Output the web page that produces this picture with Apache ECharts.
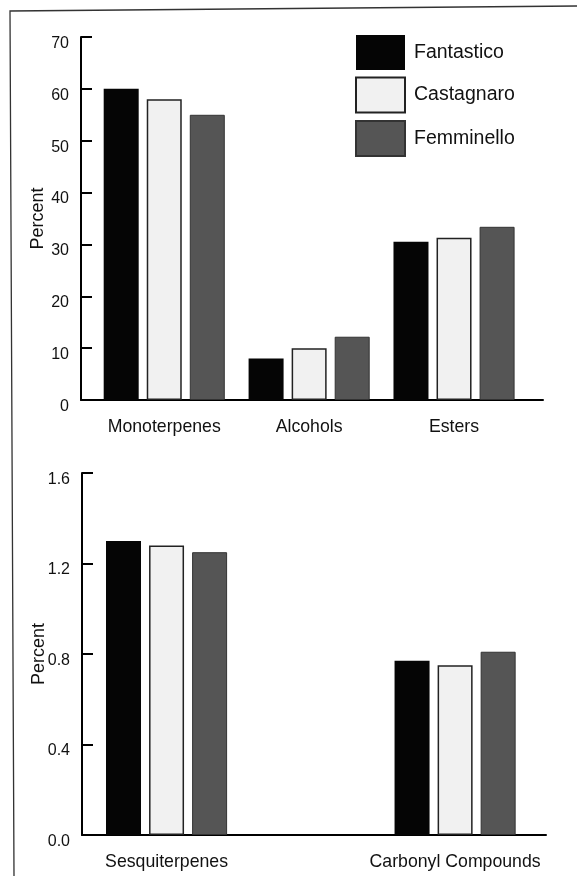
<!DOCTYPE html>
<html>
<head>
<meta charset="utf-8">
<script src="https://cdn.jsdelivr.net/npm/echarts@6/dist/echarts.min.js"></script>
<style>
  html, body { margin: 0; padding: 0; background: #ffffff; }
  #chart { width: 577px; height: 876px; }
</style>
</head>
<body>
<div id="chart"></div>
<script>
// ---- data ----
const seriesNames = ['Fantastico', 'Castagnaro', 'Femminello'];
const categoriesTop = ['Monoterpenes', 'Alcohols', 'Esters'];
const fantasticoTop = [60, 8, 30.5];
const castagnaroTop = [58, 10, 31.3];
const femminelloTop = [55, 12.2, 33.4];
const categoriesBottom = ['Sesquiterpenes', 'Carbonyl Compounds'];
const fantasticoBottom = [1.30, 0.77];
const castagnaroBottom = [1.28, 0.75];
const femminelloBottom = [1.25, 0.81];
const yTicksTop = [0, 10, 20, 30, 40, 50, 60, 70];
const yTicksBottom = [0.0, 0.4, 0.8, 1.2, 1.6];

// ---- styles ----
const FONT = "'Liberation Sans', Arial, Helvetica, sans-serif";
const TEXT = '#111111';
const styles = [
  { color: '#050505', borderColor: '#000000', borderWidth: 0 },
  { color: '#f1f1f1', borderColor: '#222222', borderWidth: 1.5 },
  { color: '#555555', borderColor: '#333333', borderWidth: 1 }
];

const chart = echarts.init(document.getElementById('chart'), null, { renderer: 'canvas' });

function toPoints(values) { return values.map((v, i) => [i, v]); }

function xAxisFor(gridIndex, cats, min, max) {
  return {
    type: 'value', gridIndex, min, max,
    axisLine: { show: true, onZero: false, lineStyle: { color: '#000', width: 2 } },
    axisTick: { show: false },
    splitLine: { show: false },
    axisLabel: {
      customValues: cats.map((c, i) => i),
      formatter: v => cats[Math.round(v)] ?? '',
      fontFamily: FONT, fontSize: 17.7, color: TEXT, margin: 18
    }
  };
}

function yAxisFor(gridIndex, ticks, decimals) {
  return {
    type: 'value', gridIndex,
    min: ticks[0], max: ticks[ticks.length - 1],
    interval: ticks[1] - ticks[0],
    name: 'Percent', nameLocation: 'middle', nameGap: 34,
    nameMoveOverlap: false,
    nameTextStyle: { fontFamily: FONT, fontSize: 18, color: TEXT },
    axisLine: { show: true, onZero: false, lineStyle: { color: '#000', width: 2 } },
    axisTick: { show: true, inside: true, length: 11, lineStyle: { color: '#000', width: 2 } },
    splitLine: { show: false },
    axisLabel: {
      fontFamily: FONT, fontSize: 16, color: TEXT, margin: 12,
      verticalAlign: 'top', lineHeight: 13,
      formatter: v => decimals ? v.toFixed(decimals) : String(v)
    }
  };
}

const topVals = [fantasticoTop, castagnaroTop, femminelloTop];
const botVals = [fantasticoBottom, castagnaroBottom, femminelloBottom];

const series = [];
seriesNames.forEach((name, k) => {
  series.push({
    type: 'bar', name, xAxisIndex: 0, yAxisIndex: 0,
    data: toPoints(topVals[k]), barWidth: 35, barGap: '23%',
    itemStyle: styles[k], emphasis: { disabled: true }
  });
});
seriesNames.forEach((name, k) => {
  series.push({
    type: 'bar', name, xAxisIndex: 1, yAxisIndex: 1,
    data: toPoints(botVals[k]), barWidth: 35, barGap: '23%',
    itemStyle: styles[k], emphasis: { disabled: true }
  });
});

chart.setOption({
  backgroundColor: '#ffffff',
  animation: false,
  textStyle: { fontFamily: FONT },
  legend: {
    data: seriesNames,
    orient: 'vertical',
    left: 350, top: 30,
    itemWidth: 49, itemHeight: 35, itemGap: 6.5,
    icon: 'rect',
    textStyle: { fontFamily: FONT, fontSize: 19.5, color: TEXT, padding: [0, 0, 0, 4] },
    selectedMode: false
  },
  grid: [
    { left: 81, top: 37, width: 462, height: 363 },
    { left: 82, top: 473, width: 464, height: 362 }
  ],
  xAxis: [
    xAxisFor(0, categoriesTop, -0.5745, 2.614),
    xAxisFor(1, categoriesBottom, -0.293, 1.315)
  ],
  yAxis: [
    yAxisFor(0, yTicksTop, 0),
    yAxisFor(1, yTicksBottom, 1)
  ],
  series,
  graphic: [{
    type: 'polyline',
    shape: { points: [[14, 876], [10, 11], [577, 6]] },
    style: { stroke: '#333333', lineWidth: 1.3, fill: null },
    silent: true
  }]
});
</script>
</body>
</html>
